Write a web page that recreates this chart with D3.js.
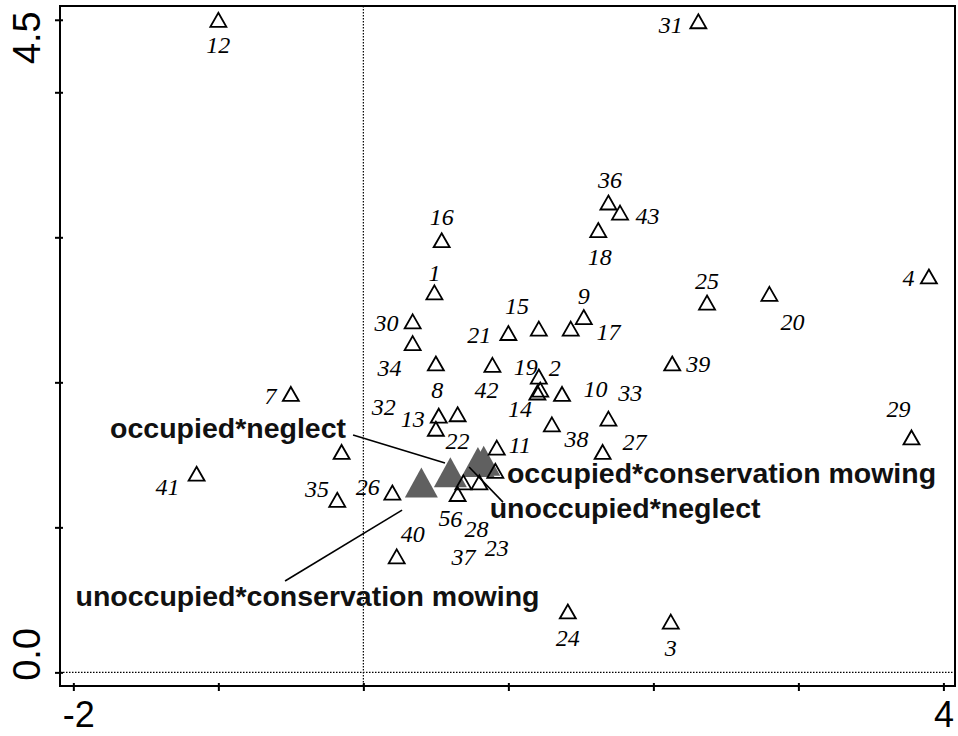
<!DOCTYPE html>
<html>
<head>
<meta charset="utf-8">
<script src="https://cdn.jsdelivr.net/npm/d3@7"></script>
<style>
  html, body { margin: 0; padding: 0; background: #ffffff; }
  svg { display: block; }
</style>
</head>
<body>
<svg id="chart" width="958" height="736"></svg>
<script>
// ---------------- DATA ----------------
const siteIds = ["12","31","16","36","43","18","1","30","21","15","9","17","34","8","42","19","2","14","10","38","33","27","39","25","20","4","29","7","41","13","22","32","11","23","37","35","26","40","24","3","6","5","28"];
const siteX   = [-1.00, 2.31, 0.54, 1.69, 1.77, 1.62, 0.49, 0.34, 1.00, 1.21, 1.52, 1.43, 0.34, 0.50, 0.89, 1.21, 1.20, 1.22, 1.37, 1.30, 1.69, 1.65, 2.13, 2.37, 2.80, 3.90, 3.78, -0.50, -1.15, 0.52, 0.65, 0.50, 0.92, 0.91, -0.15, -0.18, 0.20, 0.23, 1.41, 2.12, 0.69, 0.65, 0.80];
const siteY   = [4.50, 4.49, 2.98, 3.24, 3.17, 3.05, 2.62, 2.42, 2.34, 2.37, 2.45, 2.37, 2.27, 2.13, 2.12, 2.04, 1.93, 1.95, 1.92, 1.71, 1.75, 1.52, 2.13, 2.55, 2.61, 2.73, 1.62, 1.92, 1.37, 1.77, 1.78, 1.68, 1.55, 1.39, 1.52, 1.19, 1.24, 0.80, 0.42, 0.35, 1.31, 1.23, 1.31];
// label anchor points (data units)
const labelX  = [-1.00, 2.12, 0.54, 1.70, 1.96, 1.63, 0.49, 0.16, 0.80, 1.06, 1.52, 1.69, 0.18, 0.51, 0.85, 1.12, 1.32, 1.08, 1.60, 1.47, 1.84, 1.87, 2.31, 2.37, 2.96, 3.76, 3.69, -0.64, -1.35, 0.34, 0.65, 0.14, 1.08, 0.92, 0.69, -0.32, 0.03, 0.34, 1.41, 2.12, 0.64, 0.56, 0.78];
const labelY  = [4.33, 4.47, 3.14, 3.40, 3.15, 2.87, 2.76, 2.41, 2.33, 2.53, 2.60, 2.35, 2.10, 1.95, 1.95, 2.11, 2.10, 1.82, 1.96, 1.61, 1.93, 1.59, 2.13, 2.70, 2.42, 2.72, 1.82, 1.91, 1.28, 1.75, 1.60, 1.83, 1.57, 0.86, 0.80, 1.27, 1.28, 0.96, 0.24, 0.17, 1.06, 1.07, 0.99];

const treatmentNames = ["unoccupied*conservation mowing", "occupied*neglect", "occupied*conservation mowing", "unoccupied*neglect"];
const treatmentX     = [0.40, 0.60, 0.79, 0.83];
const treatmentY     = [1.31, 1.38, 1.45, 1.46];
const treatLabelX    = [-0.385, -0.933, 2.470, 1.805];
const treatLabelY    = [0.457, 1.616, 1.306, 1.064];
// leader lines [x1, y1, x2, y2] in data units (null = none)
const treatLeaders   = [[0.267, 1.119, -0.540, 0.630], [-0.071, 1.637, 0.563, 1.443], null, [0.729, 1.416, 0.963, 1.174]];

const xTicks = [-2, -1, 0, 1, 2, 3, 4];
const xTickLabels = ["-2", "", "", "", "", "", "4"];
const yTicks = [0, 1, 2, 3, 4, 4.5];
const yTickLabels = ["0.0", "", "", "", "", "4.5"];

// ---------------- LAYOUT ----------------
const svg = d3.select("#chart");
const L = 60, R = 955, T = 6, B = 686;
const x = d3.scaleLinear().domain([-2.092, 4.080]).range([L, R]);
const y = d3.scaleLinear().domain([-0.094, 4.595]).range([B, T]);

const serif = "'Liberation Serif', 'Times New Roman', serif";
const sans = "'Liberation Sans', Arial, Helvetica, sans-serif";

// zero reference lines (dotted)
svg.append("line")
  .attr("x1", x(0)).attr("x2", x(0)).attr("y1", T).attr("y2", B)
  .attr("stroke", "#000").attr("stroke-width", 1.2).attr("stroke-dasharray", "1.5,1.5");
svg.append("line")
  .attr("x1", L).attr("x2", R).attr("y1", y(0)).attr("y2", y(0))
  .attr("stroke", "#000").attr("stroke-width", 1.2).attr("stroke-dasharray", "1.5,1.5");

// triangle path centred on bbox centre
function tri(w, h) {
  return `M0,${-h/2}L${w/2},${h/2}L${-w/2},${h/2}Z`;
}

// treatment centroids (filled grey)
svg.append("g").selectAll("path")
  .data(treatmentNames.map((n, i) => ({n, x: treatmentX[i], y: treatmentY[i]})))
  .join("path")
  .attr("d", tri(33, 30))
  .attr("transform", d => `translate(${x(d.x)},${y(d.y)})`)
  .attr("fill", "#606060");

// sites (open triangles)
const sites = siteIds.map((id, i) => ({id, x: siteX[i], y: siteY[i], lx: labelX[i], ly: labelY[i]}));
svg.append("g").selectAll("path")
  .data(sites)
  .join("path")
  .attr("d", tri(16, 14))
  .attr("transform", d => `translate(${x(d.x)},${y(d.y)})`)
  .attr("fill", "none")
  .attr("stroke", "#000")
  .attr("stroke-width", 1.8)
  .attr("stroke-linejoin", "miter");

// site labels
svg.append("g").selectAll("text")
  .data(sites)
  .join("text")
  .attr("x", d => x(d.lx))
  .attr("y", d => y(d.ly))
  .attr("dy", "0.35em")
  .attr("text-anchor", "middle")
  .attr("font-family", serif)
  .attr("font-style", "italic")
  .attr("font-size", 24)
  .attr("fill", "#000")
  .text(d => d.id);

// leader lines
svg.append("g").selectAll("line")
  .data(treatLeaders.filter(d => d))
  .join("line")
  .attr("x1", d => x(d[0])).attr("y1", d => y(d[1]))
  .attr("x2", d => x(d[2])).attr("y2", d => y(d[3]))
  .attr("stroke", "#000").attr("stroke-width", 1.6);

// treatment labels
svg.append("g").selectAll("text")
  .data(treatmentNames.map((n, i) => ({n, x: treatLabelX[i], y: treatLabelY[i]})))
  .join("text")
  .attr("x", d => x(d.x))
  .attr("y", d => y(d.y))
  .attr("text-anchor", "middle")
  .attr("font-family", sans)
  .attr("font-weight", "bold")
  .attr("font-size", 28.5)
  .attr("fill", "#111")
  .text(d => d.n);

// frame
svg.append("rect")
  .attr("x", L).attr("y", T).attr("width", R - L).attr("height", B - T)
  .attr("fill", "none").attr("stroke", "#000").attr("stroke-width", 2);

// x axis ticks
const xAxis = d3.axisBottom(x).tickValues(xTicks).tickSize(0).tickFormat((d, i) => xTickLabels[i]);
const gx = svg.append("g").attr("transform", `translate(0,${B})`).call(xAxis);
gx.select(".domain").remove();
gx.selectAll(".tick").append("line")
  .attr("y1", -3).attr("y2", 5).attr("stroke", "#000").attr("stroke-width", 2);
gx.selectAll(".tick text")
  .attr("font-family", sans).attr("font-size", 36).attr("fill", "#000")
  .attr("y", 41).attr("dy", 0)
  .attr("dx", (d, i) => i === 0 ? 5 : 0);

// y axis ticks
const yAxis = d3.axisLeft(y).tickValues(yTicks).tickSize(0).tickFormat((d, i) => yTickLabels[i]);
const gy = svg.append("g").attr("transform", `translate(${L},0)`).call(yAxis);
gy.select(".domain").remove();
gy.selectAll(".tick").append("line")
  .attr("x1", -5).attr("x2", 3).attr("stroke", "#000").attr("stroke-width", 2);
gy.selectAll(".tick text")
  .attr("font-family", sans).attr("font-size", 38).attr("fill", "#000")
  .attr("x", 0).attr("dy", 0)
  .attr("transform", "rotate(-90) translate(0,-20)")
  .attr("text-anchor", (d, i) => i === 0 ? "start" : "end")
  .attr("x", (d, i) => i === 0 ? -8 : 9);
</script>
</body>
</html>
